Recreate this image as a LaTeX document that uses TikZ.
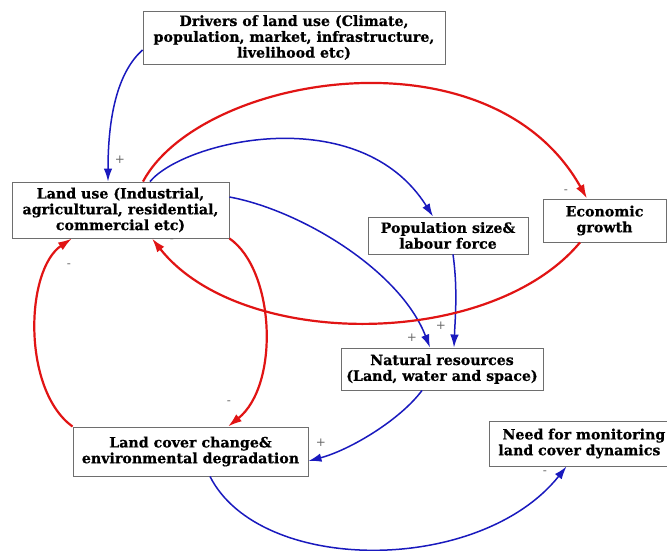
\documentclass[tikz,border=0pt]{standalone}
\usepackage{fontspec}
\setmainfont{DejaVu Serif}
\newfontfamily\boxfont{DejaVu Serif}[BoldFeatures={FakeBold=0.6}]
\usetikzlibrary{arrows.meta}
\definecolor{cred}{RGB}{225,20,20}
\definecolor{cblue}{RGB}{25,25,190}
\definecolor{cbox}{RGB}{110,110,110}
\tikzset{
  box/.style={draw=cbox, line width=0.9pt, fill=white, align=center, inner sep=0pt,
    font=\boxfont\fontsize{14.2}{15.8}\selectfont\bfseries},
  redline/.style={draw=cred, line width=2.2pt, -{Latex[length=14pt,width=9pt]}},
  blueline/.style={draw=cblue, line width=1.5pt, -{Latex[length=13pt,width=8.5pt]}},
  sign/.style={text=black!60, font=\fontsize{12}{12}\selectfont, inner sep=0pt},
}
\begin{document}
\begin{tikzpicture}[x=1pt,y=-1pt]
\clip (0,0) rectangle (667,550);
\fill[white] (0,0) rectangle (667,550);

% nodes
\node[box, minimum width=302pt, minimum height=53pt] (dr) at (294,37.5)
  {Drivers of land use (Climate,\\population, market, infrastructure,\\livelihood etc)};
\node[box, minimum width=217pt, minimum height=56pt] (lu) at (120.5,210)
  {Land use (Industrial,\\agricultural, residential,\\commercial etc)};
\node[box, minimum width=160pt, minimum height=37pt] (pop) at (448,235.5)
  {Population size\&\\labour force};
\node[box, minimum width=123pt, minimum height=43pt] (eg) at (604.5,220.5)
  {Economic\\growth};
\node[box, minimum width=202pt, minimum height=42pt] (nr) at (442,369)
  {Natural resources\\(Land, water and space)};
\node[box, minimum width=235pt, minimum height=49pt] (lc) at (190.5,451.5)
  {Land cover change\&\\environmental degradation};
\node[box, anchor=west, minimum height=45pt, inner xsep=9pt, text width=200pt, align=left] (nm) at (489,443.5)
  {\hspace*{4pt}Need for monitoring\\land cover dynamics};

% connectors
\draw[blueline] ([yshift=-12.5pt]dr.west) .. controls (120,70) and (108,110) .. ([xshift=-12.5pt]lu.north);
\draw[redline] ([xshift=22.5pt]lu.north) .. controls (200,75) and (490,25) .. ([xshift=-17.5pt]eg.north);
\draw[blueline] ([xshift=29.5pt]lu.north) .. controls (185,140) and (360,100) .. ([xshift=-15pt]pop.north);
\draw[blueline] ([yshift=13pt]lu.east) .. controls (300,210) and (400,270) .. ([xshift=-12pt]nr.north);
\draw[blueline] ([xshift=5pt]pop.south) .. controls (458,290) and (455,320) .. ([xshift=12pt]nr.north);
\draw[redline] ([xshift=-24.5pt]eg.south) .. controls (490,350) and (240,350) .. ([xshift=31.5pt]lu.south);
\draw[redline] (lu.south east) .. controls (275,270) and (280,385) .. ([xshift=37.5pt]lc.north);
\draw[redline] (lc.north west) .. controls (22,390) and (25,270) .. ([xshift=-48.5pt]lu.south);
\draw[blueline] ([xshift=-20pt]nr.south) .. controls (400,420) and (350,450) .. ([yshift=-9.5pt]lc.east);
\draw[blueline] ([xshift=19.5pt]lc.south) .. controls (260,575) and (480,575) .. ([xshift=77.5pt]nm.south west);

% signs
\node[sign] (s1) at (120,160) {+};
\node[sign] (s2) at (566,192) {-};
\node[sign] (s3) at (172,241) {-};
\node[sign] (s4) at (69,266) {-};
\node[sign] (s5) at (229,403) {-};
\node[sign] (s6) at (412,338) {+};
\node[sign] (s7) at (441,326) {+};
\node[sign] (s8) at (321,443) {+};
\node[sign] (s9) at (545,473) {-};
\end{tikzpicture}
\end{document}
